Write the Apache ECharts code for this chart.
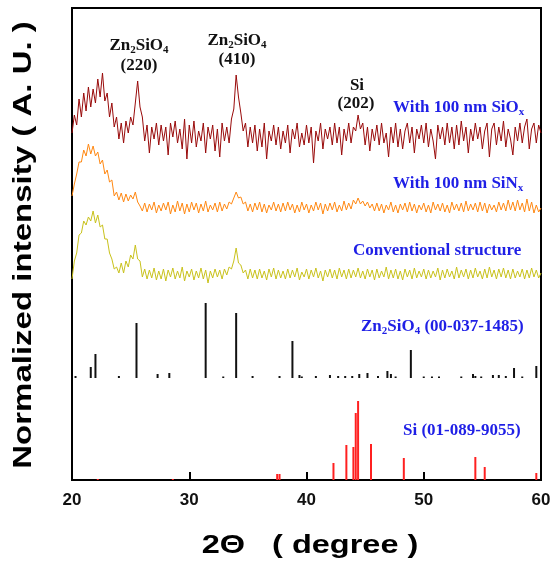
<!DOCTYPE html>
<html>
<head>
<meta charset="utf-8">
<title>XRD</title>
<script src="https://cdn.jsdelivr.net/npm/echarts@6/dist/echarts.min.js"></script>
<style>
html, body { margin: 0; padding: 0; background: #fff; }
#main { width: 554px; height: 564px; }
</style>
</head>
<body>
<div id="main"></div>
<script>
var scanStart = 20, scanStep = 0.2;
var sioxTrace = [
    4, 22, 12, 38, 20, 44, 26, 50, 30, 48,
    34, 58, 40, 64, 36, 44, 20, 34, 10, 20,
    -2, 14, -6, 16, 4, 20, 12, 34, 56, 30,
    20, -4, 12, -16, 10, -2, 14, -8, 12, -4,
    10, -18, 14, 0, 16, -6, 8, -12, 18, -22,
    12, -6, 16, -10, 6, -4, 14, -16, 10, -2,
    12, -14, 8, -20, 14, -4, 10, -6, 18, 28,
    62, 40, 24, 6, 14, -10, 10, -6, 12, -14,
    8, -10, 14, -22, 6, -4, 12, -8, 10, -12,
    6, -6, 12, -16, 8, -2, 14, -10, 4, -8,
    12, -6, 10, -26, 6, -4, 14, -12, 8, -2,
    10, -8, 14, -6, 10, -18, 8, -4, 14, -6,
    10, 6, 22, 8, 14, -8, 10, -14, 8, -4,
    12, -8, 14, -6, 4, -20, 10, -6, 14, -10,
    8, -12, 6, 14, -6, 10, -16, 8, -2, 12,
    -6, 14, -10, 8, -4, -22, 12, -2, 10, -8,
    14, -6, 10, -12, 12, -8, 16, -4, 10, -16,
    8, -4, 14, -2, 10, -12, 6, 14, -20, 8,
    14, -8, 10, -4, 16, -10, 8, -2, -18, 10,
    -4, 14, -6, 10, 18, -12, 8, 14, -6, 12,
    4
];
var sinxTrace = [
    12, 24, 34, 46, 46, 58, 52, 64, 54, 62,
    52, 56, 44, 48, 34, 38, 26, 28, 12, 16,
    8, 15, 6, 14, 7, 13, 9, 16, 6, 2,
    -3, 5, -4, 4, -2, 6, -5, 3, -3, 5,
    -2, 6, -6, 3, -4, 7, -3, 5, -6, 4,
    -4, 6, -2, 5, -5, 4, -3, 7, -4, 3,
    -2, 5, -4, 6, -3, 4, -1, 6, 4, 10,
    16, 10, 11, 4, 6, -3, 4, -4, 5, -2,
    6, -4, 4, -5, 3, -2, 6, -3, 4, -4,
    5, -3, 6, -2, 4, -5, 3, -4, 6, -2,
    4, -5, 3, -3, 6, -2, 5, -6, 4, -3,
    5, -2, 6, -4, 3, -3, 7, -2, 5, -1,
    8, 4, 10, 4, 7, 2, 6, 0, 4, -3,
    5, -3, 4, -5, 3, -2, 6, -4, 3, -5,
    4, -2, 5, -4, 6, -3, 4, -5, 3, -2,
    5, -4, 3, -5, 6, -2, 4, -3, 5, -4,
    3, -5, 6, -2, 4, -3, 5, -4, 7, -3,
    4, -2, 5, -4, 6, -3, 5, -5, 4, -2,
    3, -4, 6, -2, 5, -3, 8, -2, 6, -3,
    8, -2, 5, -4, 9, -3, 6, -5, 3, -4,
    0
];
var convTrace = [
    -4, 14, 22, 40, 42, 54, 50, 58, 54, 64,
    52, 60, 48, 50, 36, 36, 22, 16, 6, 8,
    2, 12, 2, 14, 8, 20, 16, 30, 16, 14,
    -2, 6, -4, 5, -3, 7, -5, 4, -4, 6,
    -6, 5, -2, 7, -4, 4, -3, 8, -6, 4,
    -2, 6, -5, 4, -3, 7, -4, 5, -8, 4,
    -3, 6, -2, 5, -4, 6, 0, 8, 6, 14,
    27, 12, 10, 2, 5, -4, 6, -3, 5, -4,
    6, -3, 4, -5, 6, -2, 7, -4, 5, -3,
    4, -4, 6, -3, 5, -2, 7, -5, 3, -2,
    6, -4, 5, -2, 7, -3, 4, -6, 5, -2,
    6, -3, 5, -4, 7, -2, 5, -4, 6, -3,
    5, -2, 7, -3, 4, -4, 6, -2, 5, -5,
    6, -3, 4, -2, 8, -4, 5, -3, 6, -4,
    4, -5, 6, -2, 5, -4, 7, -3, 4, -2,
    6, -4, 5, -3, 4, -2, 7, -5, 5, -3,
    6, -2, 4, -4, 8, -3, 5, -2, 6, -4,
    5, -3, 7, -2, 4, -4, 6, -3, 8, -2,
    5, -4, 6, -2, 7, -3, 5, -4, 6, -3,
    4, -2, 6, -4, 5, -3, 7, -2, 5, -3,
    2
];
// vertical offsets of the stacked patterns
var sioxOffset = 343, sinxOffset = 272, convOffset = 205, znOffset = 102, siOffset = 0;

// reference cards: [2theta, relative height]
var znSticks = [
    [20.3, 2], [21.6, 11], [22.0, 24], [24.0, 2], [25.5, 55], [27.3, 4], [28.3, 5],
    [31.4, 75], [32.9, 1.5], [34.0, 65], [35.4, 2], [37.7, 2], [38.8, 37], [39.4, 3],
    [39.6, 1.5], [40.8, 2], [42.0, 3], [42.7, 2], [43.3, 2], [43.9, 2], [44.5, 4],
    [45.2, 5], [46.1, 2], [46.9, 7], [47.2, 4], [47.6, 1.5], [48.9, 28], [50.0, 1.5],
    [50.7, 1.5], [51.3, 1.5], [53.2, 1.5], [54.2, 4], [54.4, 2], [54.9, 1.5], [55.9, 3],
    [56.4, 3], [57.0, 2], [57.7, 10], [58.4, 1.5], [59.6, 12]
];
var siSticks = [
    [22.2, 1], [28.6, 1], [37.5, 6], [37.7, 6], [42.3, 17], [43.4, 35], [44.0, 33],
    [44.2, 67], [44.4, 79], [45.5, 36], [48.3, 22], [54.4, 23], [55.2, 13], [59.6, 7]
];
var xTicks = [20, 30, 40, 50, 60];

function tracePoints(arr, offset) {
    return arr.map(function (v, i) {
        return [+(scanStart + i * scanStep).toFixed(1), offset + v];
    });
}

function traceSeries(arr, offset, color) {
    return {
        type: 'line',
        data: tracePoints(arr, offset),
        symbol: 'none',
        lineStyle: { color: color, width: 1 },
        animation: false
    };
}

function stickSeries(data, offset, color) {
    return {
        type: 'custom',
        data: data,
        encode: { x: 0 },
        animation: false,
        renderItem: function (params, api) {
            var x = api.value(0), h = api.value(1);
            var p0 = api.coord([x, offset]);
            var p1 = api.coord([x, offset + h]);
            return {
                type: 'line',
                shape: { x1: p0[0], y1: p0[1], x2: p1[0], y2: p1[1] },
                style: { stroke: color, lineWidth: 2 }
            };
        }
    };
}

var serif = '"Liberation Serif", "Times New Roman", serif';
var sans = '"Liberation Sans", Arial, sans-serif';
var blue = '#1f1fe6';

var richBase = {
    n: { fontSize: 17, fontWeight: 'bold', fontFamily: serif },
    s: { fontSize: 11, fontWeight: 'bold', fontFamily: serif, padding: [8, 0, 0, 0] }
};
function rich(color) {
    return {
        n: Object.assign({ color: color }, richBase.n),
        s: Object.assign({ color: color }, richBase.s)
    };
}
function label(text, x, y, color, align) {
    return {
        type: 'text', x: x, y: y,
        style: {
            text: text, rich: rich(color), fill: color,
            font: 'bold 17px ' + serif,
            align: align || 'left', verticalAlign: 'middle'
        }
    };
}

var chart = echarts.init(document.getElementById('main'));
chart.setOption({
    backgroundColor: '#fff',
    animation: false,
    grid: { left: 72, right: 13, top: 8, bottom: 84, show: true, borderColor: '#000', borderWidth: 2 },
    xAxis: {
        type: 'value', min: 20, max: 60, interval: 10,
        axisLine: { lineStyle: { color: '#000', width: 2 } },
        axisTick: { inside: true, length: 8, lineStyle: { color: '#000', width: 2 } },
        axisLabel: {
            margin: 12, color: '#111', fontSize: 17, fontWeight: 'bold', fontFamily: sans,
            formatter: function (v) { return xTicks.indexOf(v) >= 0 ? String(v) : ''; }
        },
        splitLine: { show: false }
    },
    yAxis: {
        type: 'value', min: 0, max: 472,
        axisLine: { show: true, lineStyle: { color: '#000', width: 2 } },
        axisTick: { show: false }, axisLabel: { show: false }, splitLine: { show: false }
    },
    series: [
        traceSeries(sioxTrace, sioxOffset, '#990a0a'),
        traceSeries(sinxTrace, sinxOffset, '#ff8812'),
        traceSeries(convTrace, convOffset, '#c9c21c'),
        stickSeries(znSticks, znOffset, '#111'),
        stickSeries(siSticks, siOffset, '#ff2020')
    ],
    graphic: [
        label('{n|Zn}{s|2}{n|SiO}{s|4}', 139, 46, '#111', 'center'),
        label('{n|(220)}', 139, 66, '#111', 'center'),
        label('{n|Zn}{s|2}{n|SiO}{s|4}', 237, 41, '#111', 'center'),
        label('{n|(410)}', 237, 60, '#111', 'center'),
        label('{n|Si}', 357, 86, '#111', 'center'),
        label('{n|(202)}', 356, 104, '#111', 'center'),
        label('{n|With 100 nm SiO}{s|x}', 393, 108, blue),
        label('{n|With 100 nm SiN}{s|x}', 393, 184, blue),
        label('{n|Conventional structure}', 353, 251, blue),
        label('{n|Zn}{s|2}{n|SiO}{s|4}{n| (00-037-1485)}', 361, 327, blue),
        label('{n|Si (01-089-9055)}', 403, 431, blue),
        {
            type: 'text', x: 24, y: 245, rotation: Math.PI / 2, scaleX: 1.27,
            style: {
                text: 'Normalized intensity ( A. U. )', fill: '#000',
                font: 'bold 26px ' + sans, align: 'center', verticalAlign: 'middle'
            }
        },
        {
            type: 'text', x: 310, y: 546, scaleX: 1.3,
            style: {
                text: '2\u0398   ( degree )', fill: '#000',
                font: 'bold 25px ' + sans, align: 'center', verticalAlign: 'middle'
            }
        }
    ]
});
</script>
</body>
</html>
